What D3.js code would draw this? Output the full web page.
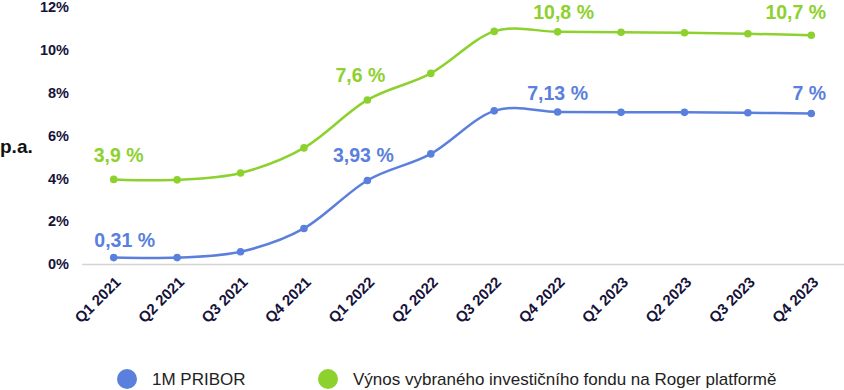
<!DOCTYPE html>
<html lang="cs">
<head>
    <meta charset="UTF-8">
    <title>PRIBOR vs fond</title>
    <style>
        body, html {
            margin: 0;
            padding: 0;
            width: 100%;
            height: 100%;
            overflow: hidden;
            background: #fff;
            font-family: Arial, "Liberation Sans", sans-serif;
        }
        #chart {
            display: block;
        }
    </style>
</head>
<body>
    <svg id="chart" width="844" height="390"></svg>

    <script src="https://cdnjs.cloudflare.com/ajax/libs/d3/7.8.5/d3.min.js"></script>
    <script>
        // quarters on the x axis
        const quarters = ["Q1 2021", "Q2 2021", "Q3 2021", "Q4 2021", "Q1 2022", "Q2 2022",
                          "Q3 2022", "Q4 2022", "Q1 2023", "Q2 2023", "Q3 2023", "Q4 2023"];
        // values in % p.a.
        const pribor = [0.30, 0.30, 0.57, 1.66, 3.90, 5.14, 7.15, 7.10, 7.08, 7.08, 7.06, 7.03];
        const fund   = [3.95, 3.93, 4.25, 5.42, 7.66, 8.90, 10.86, 10.84, 10.82, 10.80, 10.75, 10.68];
        const yTicks = [0, 2, 4, 6, 8, 10, 12];
        // value labels: [index into quarters, text]
        const priborLabels = [[0, "0,31 %"], [4, "3,93 %"], [7, "7,13 %"], [11, "7 %"]];
        const fundLabels   = [[0, "3,9 %"], [4, "7,6 %"], [7, "10,8 %"], [11, "10,7 %"]];
        const seriesNames = ["1M PRIBOR", "Výnos vybraného investičního fondu na Roger platformě"];

        const blue = "#5b7fdc";
        const green = "#8dd12e";
        const tickColor = "#16133a";

        const svg = d3.select("#chart");

        const x = d3.scalePoint()
            .domain(quarters)
            .range([82, 843])
            .padding(0.5);

        const y = d3.scaleLinear()
            .domain([0, 12])
            .range([264, 7]);

        // baseline
        svg.append("line")
            .attr("x1", 82).attr("x2", 844)
            .attr("y1", y(0) + 0.5).attr("y2", y(0) + 0.5)
            .attr("stroke", "#d4d4d4")
            .attr("stroke-width", 1.5);

        // y tick labels
        svg.append("g")
            .selectAll("text")
            .data(yTicks)
            .enter()
            .append("text")
            .attr("x", 69)
            .attr("y", d => y(d))
            .attr("dy", "0.36em")
            .attr("text-anchor", "end")
            .attr("font-size", 14.5)
            .attr("font-weight", "bold")
            .attr("fill", tickColor)
            .text(d => d + "%");

        svg.append("text")
            .attr("x", 0)
            .attr("y", 153)
            .attr("font-size", 19)
            .attr("font-weight", "bold")
            .attr("fill", "#111")
            .text("p.a.");

        // x tick labels
        svg.append("g")
            .selectAll("text")
            .data(quarters)
            .enter()
            .append("text")
            .attr("transform", d => `translate(${x(d) + 8},${283}) rotate(-45)`)
            .attr("text-anchor", "end")
            .attr("font-size", 15)
            .attr("font-weight", "bold")
            .attr("fill", tickColor)
            .text(d => d);

        const line = d3.line()
            .x((d, i) => x(quarters[i]))
            .y(d => y(d))
            .curve(d3.curveCardinal.tension(0));

        function drawSeries(values, color) {
            svg.append("path")
                .datum(values)
                .attr("d", line)
                .attr("fill", "none")
                .attr("stroke", color)
                .attr("stroke-width", 2.5);

            svg.append("g")
                .selectAll("circle")
                .data(values)
                .enter()
                .append("circle")
                .attr("cx", (d, i) => x(quarters[i]))
                .attr("cy", d => y(d))
                .attr("r", 3.8)
                .attr("fill", color);
        }

        drawSeries(pribor, blue);
        drawSeries(fund, green);

        // label nudges (dx, dy from point)
        const priborNudge = [[11, -11], [-4, -18.5], [0, -12], [-2, -13.5]];
        const fundNudge = [[5, -17.5], [-7, -18], [6, -13], [-15.5, -16.5]];

        function drawLabels(labels, values, nudge, color) {
            svg.append("g")
                .selectAll("text")
                .data(labels)
                .enter()
                .append("text")
                .attr("x", (d, k) => x(quarters[d[0]]) + nudge[k][0])
                .attr("y", (d, k) => y(values[d[0]]) + nudge[k][1])
                .attr("text-anchor", "middle")
                .attr("font-size", 19.5)
                .attr("font-weight", "bold")
                .attr("fill", color)
                .text(d => d[1]);
        }

        drawLabels(priborLabels, pribor, priborNudge, blue);
        drawLabels(fundLabels, fund, fundNudge, green);

        // legend
        const legendX = [127, 328];
        const legend = svg.append("g")
            .selectAll("g")
            .data(seriesNames)
            .enter()
            .append("g")
            .attr("transform", (d, i) => `translate(${legendX[i]},379)`);

        legend.append("circle")
            .attr("r", 10)
            .attr("fill", (d, i) => i === 0 ? blue : green);

        legend.append("text")
            .attr("x", 25)
            .attr("y", 5.5)
            .attr("font-size", 17)
            .attr("fill", "#222")
            .text(d => d);
    </script>
</body>
</html>
